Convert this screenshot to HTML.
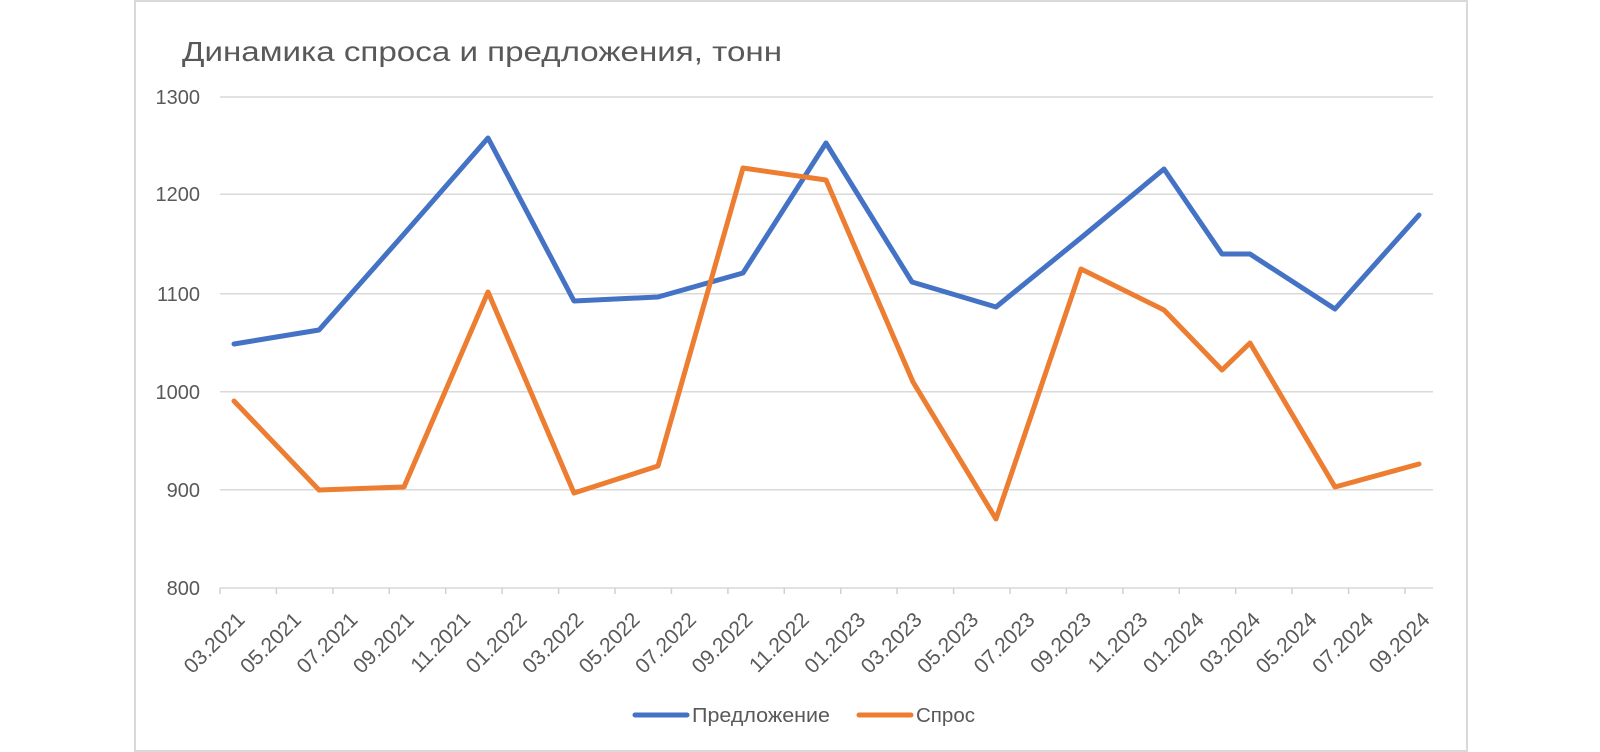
<!DOCTYPE html>
<html><head><meta charset="utf-8"><style>
html,body{margin:0;padding:0;background:#fff;width:1600px;height:752px;overflow:hidden}
svg text{font-family:"Liberation Sans","DejaVu Sans",sans-serif;fill:#595959}
</style></head><body>
<svg width="1600" height="752" viewBox="0 0 1600 752" xmlns="http://www.w3.org/2000/svg">
<rect x="135" y="1" width="1332" height="750" fill="#fff" stroke="#d9d9d9" stroke-width="2"/>
<text x="182" y="61" font-size="28" textLength="600" lengthAdjust="spacingAndGlyphs">Динамика спроса и предложения, тонн</text>
<g stroke="#d9d9d9" stroke-width="1.5">
<line x1="220" y1="97" x2="1433" y2="97"/>
<line x1="220" y1="194.3" x2="1433" y2="194.3"/>
<line x1="220" y1="293.7" x2="1433" y2="293.7"/>
<line x1="220" y1="391.7" x2="1433" y2="391.7"/>
<line x1="220" y1="489.7" x2="1433" y2="489.7"/>
<line x1="220" y1="588" x2="1433" y2="588"/>
</g>
<g stroke="#d0d0d0" stroke-width="1.5">
<line x1="220.0" y1="588" x2="220.0" y2="594"/><line x1="276.4" y1="588" x2="276.4" y2="594"/><line x1="332.9" y1="588" x2="332.9" y2="594"/><line x1="389.3" y1="588" x2="389.3" y2="594"/><line x1="445.7" y1="588" x2="445.7" y2="594"/><line x1="502.1" y1="588" x2="502.1" y2="594"/><line x1="558.6" y1="588" x2="558.6" y2="594"/><line x1="615.0" y1="588" x2="615.0" y2="594"/><line x1="671.4" y1="588" x2="671.4" y2="594"/><line x1="727.9" y1="588" x2="727.9" y2="594"/><line x1="784.3" y1="588" x2="784.3" y2="594"/><line x1="840.7" y1="588" x2="840.7" y2="594"/><line x1="897.1" y1="588" x2="897.1" y2="594"/><line x1="953.6" y1="588" x2="953.6" y2="594"/><line x1="1010.0" y1="588" x2="1010.0" y2="594"/><line x1="1066.4" y1="588" x2="1066.4" y2="594"/><line x1="1122.9" y1="588" x2="1122.9" y2="594"/><line x1="1179.3" y1="588" x2="1179.3" y2="594"/><line x1="1235.7" y1="588" x2="1235.7" y2="594"/><line x1="1292.1" y1="588" x2="1292.1" y2="594"/><line x1="1348.6" y1="588" x2="1348.6" y2="594"/><line x1="1405.0" y1="588" x2="1405.0" y2="594"/>
</g>
<g font-size="20" text-anchor="end">
<text x="200" y="104">1300</text>
<text x="200" y="201">1200</text>
<text x="200" y="301">1100</text>
<text x="200" y="399">1000</text>
<text x="200" y="497">900</text>
<text x="200" y="595">800</text>
</g>
<g font-size="21" text-anchor="end">
<text transform="translate(246,621) rotate(-45)">03.2021</text>
<text transform="translate(302.4,621) rotate(-45)">05.2021</text>
<text transform="translate(358.9,621) rotate(-45)">07.2021</text>
<text transform="translate(415.3,621) rotate(-45)">09.2021</text>
<text transform="translate(471.7,621) rotate(-45)">11.2021</text>
<text transform="translate(528.1,621) rotate(-45)">01.2022</text>
<text transform="translate(584.6,621) rotate(-45)">03.2022</text>
<text transform="translate(641,621) rotate(-45)">05.2022</text>
<text transform="translate(697.4,621) rotate(-45)">07.2022</text>
<text transform="translate(753.9,621) rotate(-45)">09.2022</text>
<text transform="translate(810.3,621) rotate(-45)">11.2022</text>
<text transform="translate(866.7,621) rotate(-45)">01.2023</text>
<text transform="translate(923.1,621) rotate(-45)">03.2023</text>
<text transform="translate(979.6,621) rotate(-45)">05.2023</text>
<text transform="translate(1036,621) rotate(-45)">07.2023</text>
<text transform="translate(1092.4,621) rotate(-45)">09.2023</text>
<text transform="translate(1148.9,621) rotate(-45)">11.2023</text>
<text transform="translate(1205.3,621) rotate(-45)">01.2024</text>
<text transform="translate(1261.7,621) rotate(-45)">03.2024</text>
<text transform="translate(1318.1,621) rotate(-45)">05.2024</text>
<text transform="translate(1374.6,621) rotate(-45)">07.2024</text>
<text transform="translate(1431,621) rotate(-45)">09.2024</text>
</g>
<polyline fill="none" stroke="#4472C4" stroke-width="5" stroke-linejoin="round" stroke-linecap="round"
points="234,344 319,330 404,234 488,138 574,301 658,297 743,273 826,143 912,282 996,307 1082,237 1164,169 1222,254 1250,254 1335,309 1419,215"/>
<polyline fill="none" stroke="#ED7D31" stroke-width="5" stroke-linejoin="round" stroke-linecap="round"
points="234,401 319,490 404,487 488,292 574,493 658,466 743,168 826,180 913,382 996,519 1081,269 1164,310 1222,370 1250,343 1335,487 1419,464"/>
<line x1="635" y1="715" x2="687" y2="715" stroke="#4472C4" stroke-width="5" stroke-linecap="round"/>
<text x="692" y="722" font-size="20" textLength="138" lengthAdjust="spacingAndGlyphs">Предложение</text>
<line x1="859" y1="715" x2="911" y2="715" stroke="#ED7D31" stroke-width="5" stroke-linecap="round"/>
<text x="916" y="722" font-size="20" textLength="59" lengthAdjust="spacingAndGlyphs">Спрос</text>
</svg>
</body></html>
